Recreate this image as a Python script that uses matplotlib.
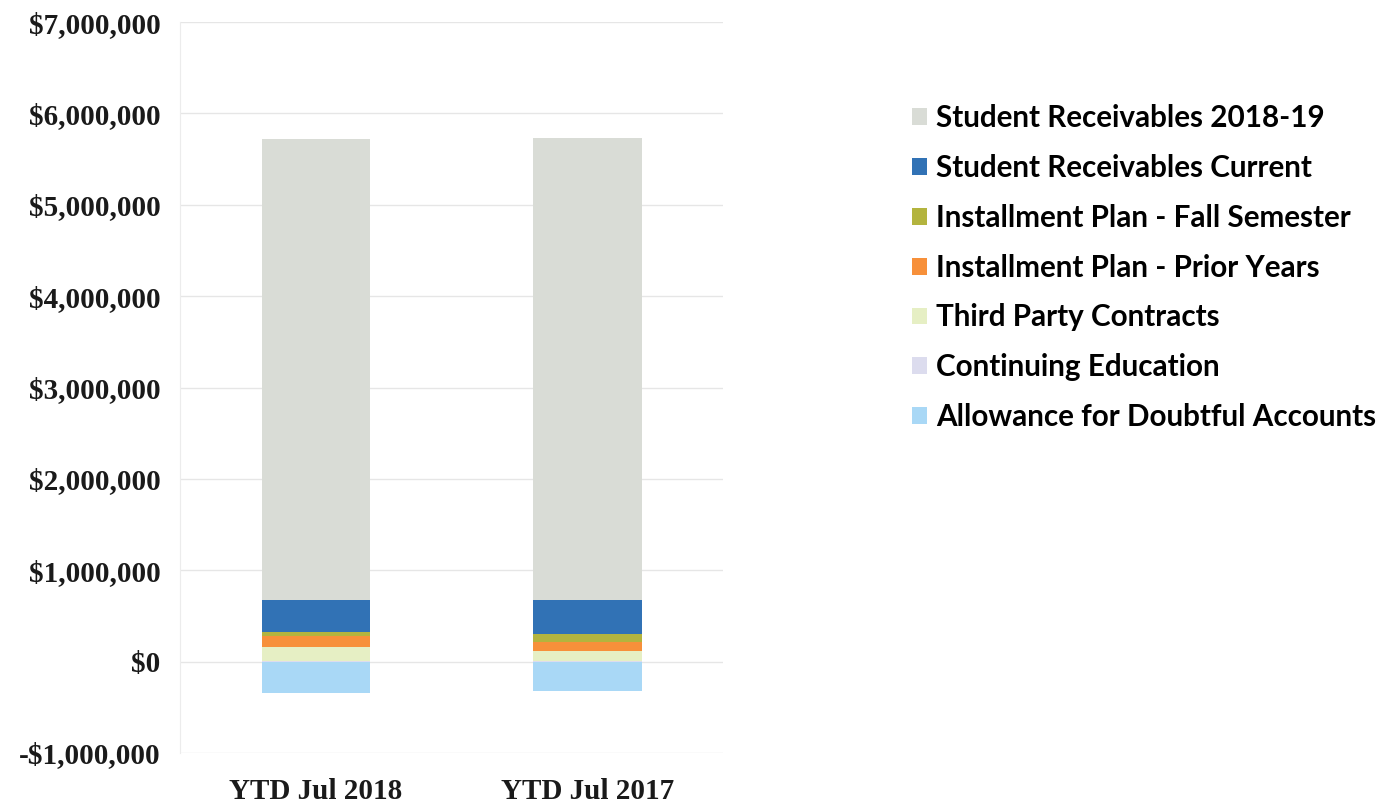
import numpy as np
import matplotlib
matplotlib.use("Agg")
import matplotlib.pyplot as plt
from matplotlib.patches import Patch
from matplotlib.ticker import FuncFormatter

# data (in dollars)
periods = ["YTD Jul 2018", "YTD Jul 2017"]
allowance = [-340000, -320000]
continuing_ed = [10000, 10000]
third_party = [150000, 110000]
prior_years = [120000, 100000]
fall_semester = [45000, 80000]
current = [350000, 370000]
receivables_1819 = [5050000, 5060000]

series = [
    ("Allowance for Doubtful Accounts", allowance, "#a9d8f6"),
    ("Continuing Education", continuing_ed, "#dcdcee"),
    ("Third Party Contracts", third_party, "#e6efc4"),
    ("Installment Plan - Prior Years", prior_years, "#f7903a"),
    ("Installment Plan - Fall Semester", fall_semester, "#b3b43e"),
    ("Student Receivables Current", current, "#3172b5"),
    ("Student Receivables 2018-19", receivables_1819, "#d9dcd6"),
]

fig = plt.figure(figsize=(13.86, 8.05), dpi=100)
ax = fig.add_axes([0.130, 0.0646, 0.392, 0.908])

x = np.arange(len(periods))
pos_base = np.zeros(len(periods))
neg_base = np.zeros(len(periods))
for name, vals, col in series:
    vals = np.array(vals, dtype=float)
    base = np.where(vals < 0, neg_base, pos_base)
    ax.bar(x, vals, bottom=base, width=0.4, color=col, edgecolor="none", zorder=2)
    pos_base = pos_base + np.where(vals > 0, vals, 0)
    neg_base = neg_base + np.where(vals < 0, vals, 0)

ax.set_xlim(-0.5, 1.5)
ax.set_ylim(-1000000, 7000000)
ax.set_yticks(np.arange(-1000000, 7000001, 1000000))
ax.yaxis.set_major_formatter(FuncFormatter(
    lambda v, p: ("-" if v < 0 else "") + "${:,.0f}".format(abs(v))))
ax.set_xticks(x)
ax.set_xticklabels(periods)

ax.grid(axis="y", color="#e6e6e6", lw=1.0, zorder=0)
for s in ["top", "right", "bottom"]:
    ax.spines[s].set_visible(False)
ax.spines["left"].set_color("#ececec")
ax.tick_params(axis="both", length=0)
ax.tick_params(axis="y", pad=14)
ax.tick_params(axis="x", pad=18)
for lab in ax.get_yticklabels() + ax.get_xticklabels():
    lab.set_fontfamily("Liberation Serif")
    lab.set_fontweight("bold")
    lab.set_fontsize(21)
    lab.set_color("#1a1a1a")

# legend: top series first, like Excel
handles = [Patch(facecolor=col, edgecolor="none", label=name)
           for name, vals, col in series[::-1]]
fig.legend(handles=handles, loc="upper left", bbox_to_anchor=(0.639, 0.904),
           frameon=False, handlelength=0.5, handleheight=0.5,
           handletextpad=0.3, labelspacing=0.74,
           prop={"family": "Lato", "weight": "bold", "size": 21.3})

fig.savefig("out.png", dpi=100)
